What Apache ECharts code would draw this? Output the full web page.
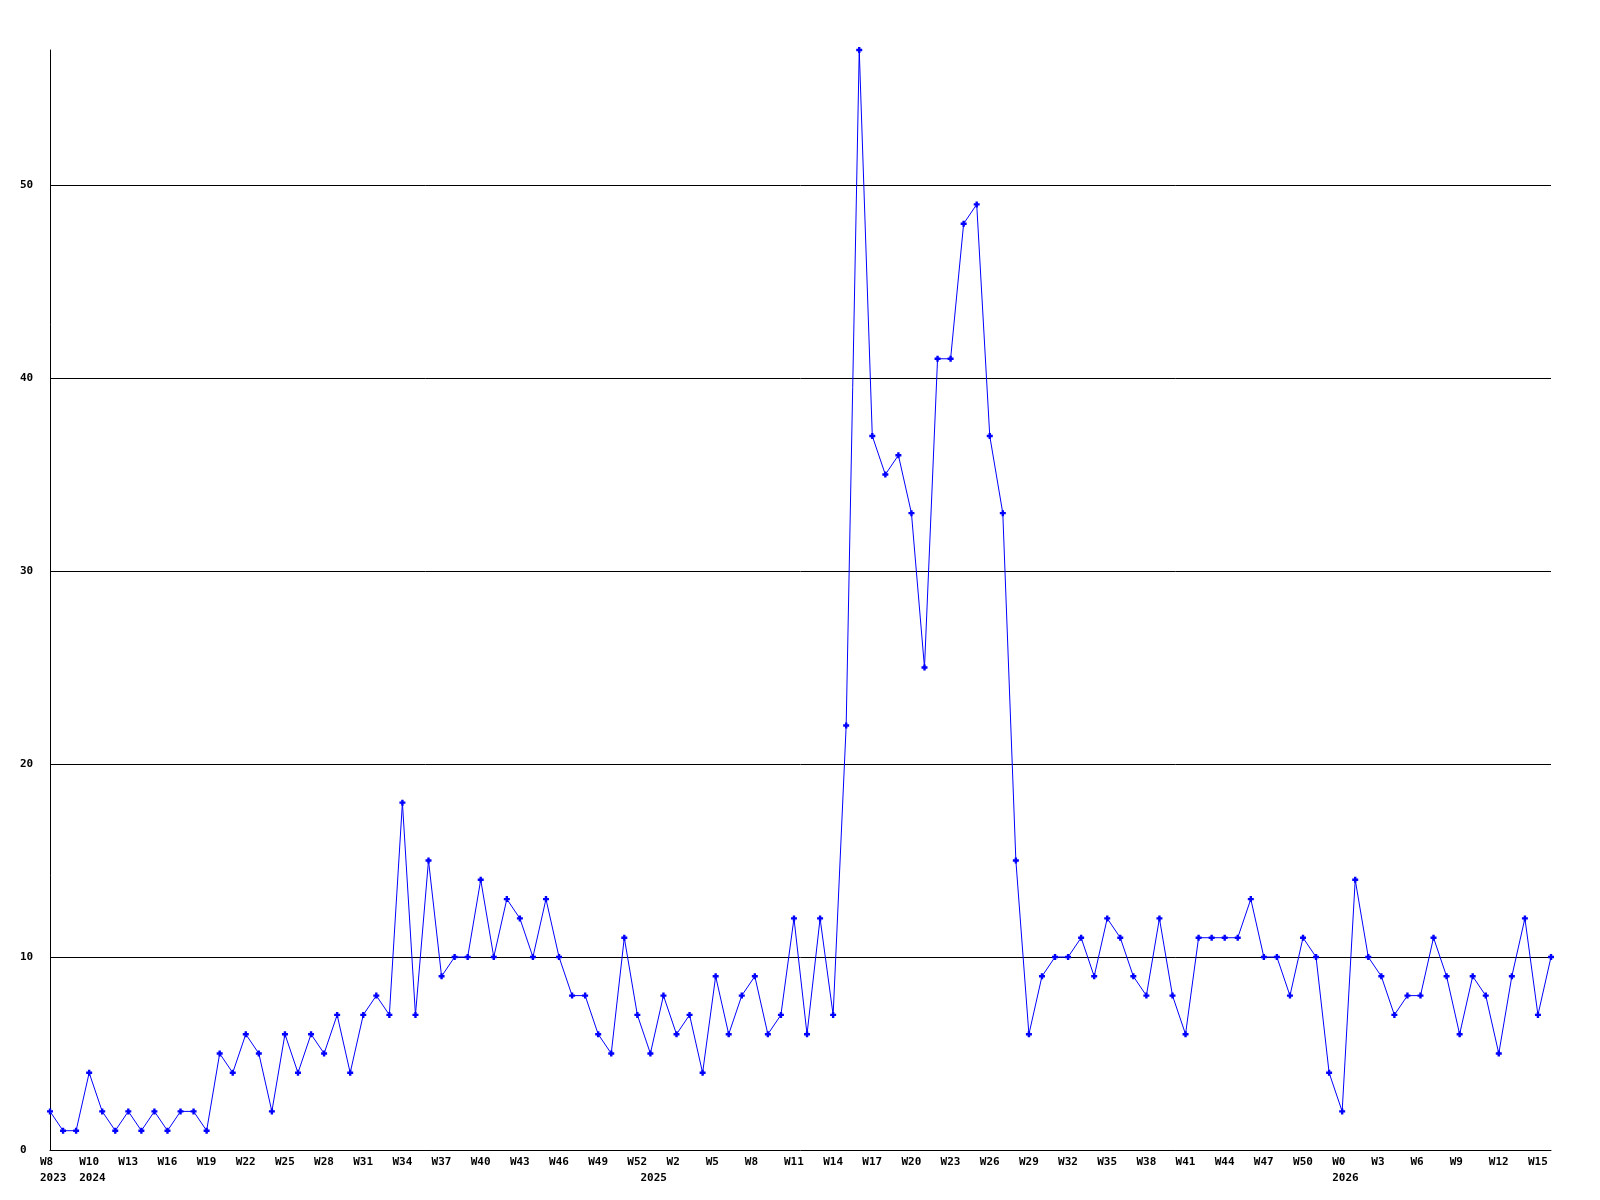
<!DOCTYPE html>
<html>
<head>
<meta charset="utf-8">
<style>
html,body{margin:0;padding:0;background:#ffffff;}
#chart{width:1600px;height:1200px;}
</style>
<script src="https://cdn.jsdelivr.net/npm/echarts@6/dist/echarts.min.js"></script>
</head>
<body>
<div id="chart"></div>
<script>
var weeks = [
  "W8","W8","W9","W10","W11","W12","W13","W14","W15","W16",
  "W17","W18","W19","W20","W21","W22","W23","W24","W25","W26",
  "W27","W28","W29","W30","W31","W32","W33","W34","W35","W36",
  "W37","W38","W39","W40","W41","W42","W43","W44","W45","W46",
  "W47","W48","W49","W50","W51","W52","W0","W1","W2","W3",
  "W4","W5","W6","W7","W8","W9","W10","W11","W12","W13",
  "W14","W15","W16","W17","W18","W19","W20","W21","W22","W23",
  "W24","W25","W26","W27","W28","W29","W30","W31","W32","W33",
  "W34","W35","W36","W37","W38","W39","W40","W41","W42","W43",
  "W44","W45","W46","W47","W48","W49","W50","W51","W52","W0",
  "W1","W2","W3","W4","W5","W6","W7","W8","W9","W10",
  "W11","W12","W13","W14","W15","W16"
];
var yearLabelIndex = [0, 3, 46, 99];
var yearLabelText = ["2023", "2024", "2025", "2026"];
var values = [
  2,1,1,4,2,1,2,1,2,1,
  2,2,1,5,4,6,5,2,6,4,
  6,5,7,4,7,8,7,18,7,15,
  9,10,10,14,10,13,12,10,13,10,
  8,8,6,5,11,7,5,8,6,7,
  4,9,6,8,9,6,7,12,6,12,
  7,22,57,37,35,36,33,25,41,41,
  48,49,37,33,15,6,9,10,10,11,
  9,12,11,9,8,12,8,6,11,11,
  11,11,13,10,10,8,11,10,4,2,
  14,10,9,7,8,8,11,9,6,9,
  8,5,9,12,7,10
];
var yTicks = [0, 10, 20, 30, 40, 50];

var font = '"DejaVu Sans Mono", monospace';
var labelBase = {
  color: '#000000',
  fontFamily: font,
  fontWeight: 'bold',
  fontSize: 11,
  align: 'left',
  hideOverlap: false
};
var chart = echarts.init(document.getElementById('chart'), null, {renderer: 'canvas'});
chart.setOption({
  animation: false,
  backgroundColor: '#ffffff',
  grid: [
    {left: 50, right: 49, top: 50, bottom: 50, containLabel: false},
    {left: 40, right: 59, top: 50, bottom: 50, containLabel: false}
  ],
  xAxis: [
    {
      type: 'category', gridIndex: 0, data: weeks, boundaryGap: false,
      axisLine: {show: true, lineStyle: {color: '#000000', width: 1}},
      axisTick: {show: false}, splitLine: {show: false},
      axisLabel: {show: false}
    },
    {
      type: 'category', gridIndex: 1, data: weeks, boundaryGap: false, position: 'bottom',
      axisLine: {show: false}, axisTick: {show: false}, splitLine: {show: false},
      axisLabel: Object.assign({}, labelBase, {interval: 2, margin: 7})
    },
    {
      type: 'category', gridIndex: 1, data: weeks, boundaryGap: false, position: 'bottom', offset: 16,
      axisLine: {show: false}, axisTick: {show: false}, splitLine: {show: false},
      axisLabel: Object.assign({}, labelBase, {
        margin: 7,
        interval: function (idx) { return yearLabelIndex.indexOf(idx) >= 0; },
        formatter: function (v, idx) {
          var k = yearLabelIndex.indexOf(idx);
          return k >= 0 ? yearLabelText[k] : '';
        }
      })
    }
  ],
  yAxis: [
    {
      type: 'value', gridIndex: 0, min: 0, max: 57, interval: 10,
      axisLine: {show: true, lineStyle: {color: '#000000', width: 1}},
      axisTick: {show: false},
      splitLine: {show: true, showMaxLine: false, showMinLine: false, lineStyle: {color: '#000000', width: 1}},
      axisLabel: {
        showMaxLabel: false,
        align: 'left',
        margin: 30,
        color: '#000000',
        fontFamily: font,
        fontWeight: 'bold',
        fontSize: 11,
        formatter: function (v) { return yTicks.indexOf(v) >= 0 ? String(v) : ''; }
      }
    },
    {
      type: 'value', gridIndex: 1, min: 0, max: 57, show: false
    }
  ],
  series: [{
    type: 'line',
    xAxisIndex: 0,
    yAxisIndex: 0,
    data: values,
    symbol: 'path://M1.5,0L3.5,0L3.5,1.5L5,1.5L5,3.5L3.5,3.5L3.5,5L1.5,5L1.5,3.5L0,3.5L0,1.5L1.5,1.5Z',
    symbolSize: 6,
    showAllSymbol: true,
    lineStyle: {color: '#0000ff', width: 1},
    itemStyle: {color: '#0000ff', borderWidth: 0},
    emphasis: {disabled: true}
  }]
});
</script>
</body>
</html>
